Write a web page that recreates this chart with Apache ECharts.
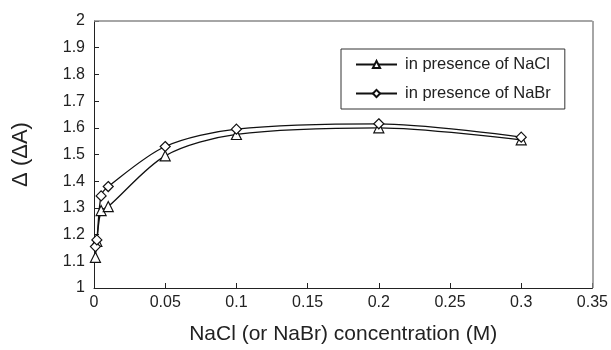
<!DOCTYPE html>
<html>
<head>
<meta charset="utf-8">
<script src="https://cdn.jsdelivr.net/npm/echarts@6/dist/echarts.min.js"></script>
<style>
  html, body { margin: 0; padding: 0; background: #fff; }
  #chart { width: 611px; height: 350px; }
</style>
</head>
<body>
<div id="chart"></div>
<script>
// ===== 数据 =====
const conc = [0.001, 0.002, 0.005, 0.01, 0.05, 0.1, 0.2, 0.3];
const naclValues = [1.115, 1.175, 1.29, 1.305, 1.495, 1.575, 1.6, 1.555];
const nabrValues = [1.155, 1.18, 1.345, 1.38, 1.53, 1.595, 1.615, 1.565];
const seriesNames = ['in presence of NaCl', 'in presence of NaBr'];

const font = 'Arial, "Liberation Sans", sans-serif';

function pairs(xs, ys) {
    return xs.map((x, i) => [x, ys[i]]);
}

const chart = echarts.init(document.getElementById('chart'));

const option = {
    animation: false,
    backgroundColor: '#fff',
    grid: { left: 94, right: 18, top: 21, bottom: 61 },
    legend: {
        orient: 'vertical',
        left: 341,
        top: 49,
        padding: [7, 14, 7, 14],
        itemGap: 12,
        itemWidth: 41,
        itemHeight: 9,
        borderColor: '#333',
        borderWidth: 1,
        textStyle: { fontFamily: font, fontSize: 16.5, color: '#222', padding: [0, 0, 0, 3] },
        data: seriesNames
    },
    xAxis: {
        type: 'value',
        min: 0, max: 0.35, interval: 0.05,
        name: 'NaCl (or NaBr) concentration (M)',
        nameLocation: 'middle',
        nameGap: 36,
        nameTextStyle: { fontFamily: font, fontSize: 21, color: '#222' },
        axisLine: { lineStyle: { color: '#222' } },
        axisTick: { inside: true, length: 5, lineStyle: { color: '#222' } },
        axisLabel: { fontFamily: font, fontSize: 16, color: '#222', margin: 7 },
        splitLine: { show: false }
    },
    yAxis: {
        type: 'value',
        min: 1, max: 2, interval: 0.1,
        name: 'Δ (ΔA)',
        nameLocation: 'middle',
        nameGap: 62,
        nameTextStyle: { fontFamily: font, fontSize: 22, color: '#222' },
        axisLine: { lineStyle: { color: '#222' } },
        axisTick: { inside: true, length: 5, lineStyle: { color: '#222' } },
        axisLabel: { fontFamily: font, fontSize: 16, color: '#222', margin: 9,
            formatter: v => String(Math.round(v * 10) / 10) },
        splitLine: { show: false }
    },
    series: [
        {
            name: seriesNames[0],
            type: 'line',
            smooth: 0.3,
            data: pairs(conc, naclValues),
            symbol: 'triangle',
            symbolSize: 10,
            lineStyle: { color: '#111', width: 1.3 },
            itemStyle: { color: '#fff', borderColor: '#111', borderWidth: 1.2 }
        },
        {
            name: seriesNames[1],
            type: 'line',
            smooth: 0.3,
            data: pairs(conc, nabrValues),
            symbol: 'diamond',
            symbolSize: 10,
            lineStyle: { color: '#111', width: 1.3 },
            itemStyle: { color: '#fff', borderColor: '#111', borderWidth: 1.2 }
        },
        {
            // 右侧与上方的灰色框线
            type: 'line',
            silent: true,
            symbol: 'none',
            data: [],
            markLine: {
                silent: true,
                symbol: 'none',
                label: { show: false },
                lineStyle: { color: '#888', width: 1.5, type: 'solid' },
                data: [{ xAxis: 0.35 }, { yAxis: 2 }]
            }
        }
    ]
};

chart.setOption(option);
</script>
</body>
</html>
